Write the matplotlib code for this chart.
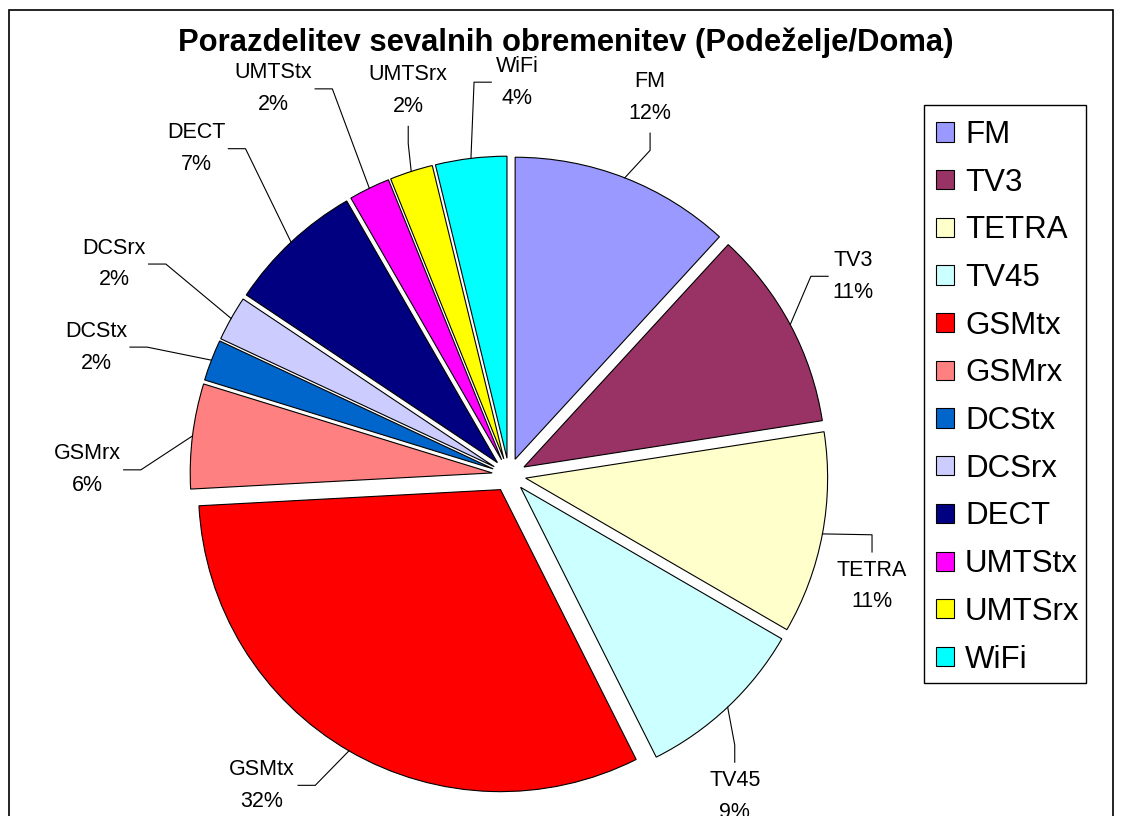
import matplotlib
matplotlib.use("Agg")
import matplotlib.pyplot as plt
from matplotlib.patches import Rectangle, Patch
import numpy as np

plt.rcParams['font.family'] = ['Liberation Sans', 'DejaVu Sans']

names = ['FM', 'TV3', 'TETRA', 'TV45', 'GSMtx', 'GSMrx', 'DCStx', 'DCSrx',
         'DECT', 'UMTStx', 'UMTSrx', 'WiFi']
shares = [11.8, 10.7, 10.8, 9.2, 31.5, 5.6, 2.2, 2.4, 7.3, 2.2, 2.3, 3.8]
colors = ['#9999FF', '#993366', '#FFFFCC', '#CCFFFF', '#FF0000', '#FF8080',
          '#0066CC', '#CCCCFF', '#000080', '#FF00FF', '#FFFF00', '#00FFFF']
title = 'Porazdelitev sevalnih obremenitev (Podeželje/Doma)'

# where each label sits: angle clockwise from 12 o'clock, distance in pie radii
lab_ang = [20.5, 60.0, 107.0, 144.9, 218.5, 270.7, 287.2, 298.1, 316.2, 328.6, 345.3, 1.2]
lab_rad = [1.334, 1.316, 1.257, 1.300, 1.313, 1.397, 1.432, 1.483, 1.497, 1.498, 1.315, 1.301]
lab_side = ['bottom', 'left', 'top', 'top', 'right', 'right', 'right', 'right',
            'right', 'right', 'bottom', 'left']

W, H = 1121, 816
cx, cy, R = 509, 475, 302

fig = plt.figure(figsize=(W / 100, H / 100), dpi=100)
ax = fig.add_axes([0, 0, 1, 1])

wedges, _ = ax.pie(shares, colors=colors, startangle=90, counterclock=False,
                   explode=[0.056] * len(shares), radius=1, center=(0, 0),
                   wedgeprops=dict(edgecolor='black', linewidth=0.8), frame=True)
ax.set_xlim(-cx / R, (W - cx) / R)
ax.set_ylim(-(H - cy) / R, cy / R)
ax.axis('off')

total = sum(shares)
texts = []
for i in range(len(names)):
    th = np.radians(lab_ang[i])
    lx, ly = lab_rad[i] * np.sin(th), lab_rad[i] * np.cos(th)
    pct = 100 * shares[i] / total
    t = ax.text(lx, ly, f"{names[i]}\n{pct:.0f}%", ha='center', va='center',
                fontsize=15.5, linespacing=1.68)
    texts.append(t)

fig.canvas.draw()
rend = fig.canvas.get_renderer()
inv = ax.transData.inverted()
stub = 0.057
for w, t, side in zip(wedges, texts, lab_side):
    mid = np.radians((w.theta1 + w.theta2) / 2)
    ax0 = w.center[0] + np.cos(mid)
    ay0 = w.center[1] + np.sin(mid)
    bb = t.get_window_extent(rend).transformed(inv)
    mx, my = (bb.x0 + bb.x1) / 2, (bb.y0 + bb.y1) / 2
    if side == 'bottom':
        lx, ly = mx, bb.y0 - 0.03
        ex, ey = lx, ly - stub
    elif side == 'top':
        lx, ly = mx, bb.y1 + 0.025
        ex, ey = lx, ly + stub
    elif side == 'left':
        lx, ly = bb.x0 - 0.015, my
        ex, ey = lx - stub, ly
    else:
        lx, ly = bb.x1 + 0.01, my
        ex, ey = lx + stub, ly
    ax.plot([ax0, ex, lx], [ay0, ey, ly], color='black', lw=0.8)

fig.text(566 / W, 1 - 43 / H, title, ha='center', va='center',
         fontsize=22.3, fontweight='bold')

handles = [Patch(facecolor=c, edgecolor='black', linewidth=0.8) for c in colors]
leg = fig.legend(handles, names, loc='upper left',
                 bbox_to_anchor=(936 / W, 1 - 120 / H), fontsize=22.5,
                 frameon=False, handlelength=0.57, handleheight=0.57,
                 handletextpad=0.36, labelspacing=0.566, borderpad=0,
                 borderaxespad=0)

# legend box
fig.patches.append(Rectangle((924 / W, 1 - 683 / H), (1086 - 924) / W, (683 - 105) / H,
                             transform=fig.transFigure, fill=False,
                             edgecolor='black', lw=1))
# chart area border
fig.patches.append(Rectangle((9 / W, -0.05), (1113 - 9) / W, 1.05 - 10 / H,
                             transform=fig.transFigure, fill=False,
                             edgecolor='black', lw=1.2))

fig.savefig('out.png', dpi=100)
